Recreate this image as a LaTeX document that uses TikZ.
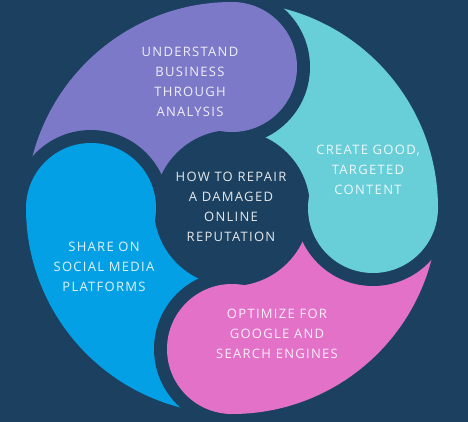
\documentclass[tikz,border=0pt]{standalone}
\usepackage{fontspec}
\setmainfont{Open Sans}[LetterSpace=10]
\definecolor{navy}{HTML}{1C4160}
\definecolor{lilac}{HTML}{7D79C9}
\definecolor{aqua}{HTML}{68CED8}
\definecolor{orchid}{HTML}{E371C8}
\definecolor{sky}{HTML}{04A0E6}
\tikzset{
  steptext/.style={align=center, text=white, text opacity=0.88,
    font=\fontsize{13}{20}\selectfont}
}

\begin{document}
\begin{tikzpicture}[x=1pt,y=1pt]
\useasboundingbox (0,0) rectangle (468,421);
\clip (0,0) rectangle (468,421);
\fill[navy] (-5,-5) rectangle (473,426);

% centre of the wheel and the four bulbs
\coordinate (O) at (232,213);
\coordinate (P1) at (232,354);
\coordinate (P2) at (373,213);
\coordinate (P3) at (232,72);
\coordinate (P4) at (91,213);

% tails
\begin{scope}
\clip (O) circle (206pt);
\fill[aqua] (O) -- ++(0:240pt) arc (0:90:240pt) -- cycle;
\fill[lilac] (O) -- ++(90:240pt) arc (90:180:240pt) -- cycle;
\fill[sky] (O) -- ++(180:240pt) arc (180:270:240pt) -- cycle;
\fill[orchid] (O) -- ++(270:240pt) arc (270:360:240pt) -- cycle;
\end{scope}
\fill[navy] (O) circle (78pt);

% gaps, then bulbs
\fill[navy] (P1) ++(0,78) arc (90:-90:78pt) -- cycle;
\fill[navy] (P2) ++(-78,0) arc (180:360:78pt) -- cycle;
\fill[navy] (P3) ++(0,-78) arc (270:90:78pt) -- cycle;
\fill[navy] (P4) ++(78,0) arc (0:180:78pt) -- cycle;
\fill[lilac] (P1) circle (65pt);
\fill[aqua] (P2) circle (65pt);
\fill[orchid] (P3) circle (65pt);
\fill[sky] (P4) circle (65pt);

\node[steptext] (analysis) at (190,339) {UNDERSTAND\\BUSINESS\\THROUGH\\ANALYSIS};
\node[steptext] (content) at (368,251) {CREATE GOOD,\\TARGETED\\CONTENT};
\node[steptext] (repair) at (231,214) {HOW TO REPAIR\\A DAMAGED\\ONLINE\\REPUTATION};
\node[steptext] (share) at (104,154) {SHARE ON\\SOCIAL MEDIA\\PLATFORMS};
\node[steptext] (optimize) at (277,87) {OPTIMIZE FOR\\GOOGLE AND\\SEARCH ENGINES};
\end{tikzpicture}
\end{document}
